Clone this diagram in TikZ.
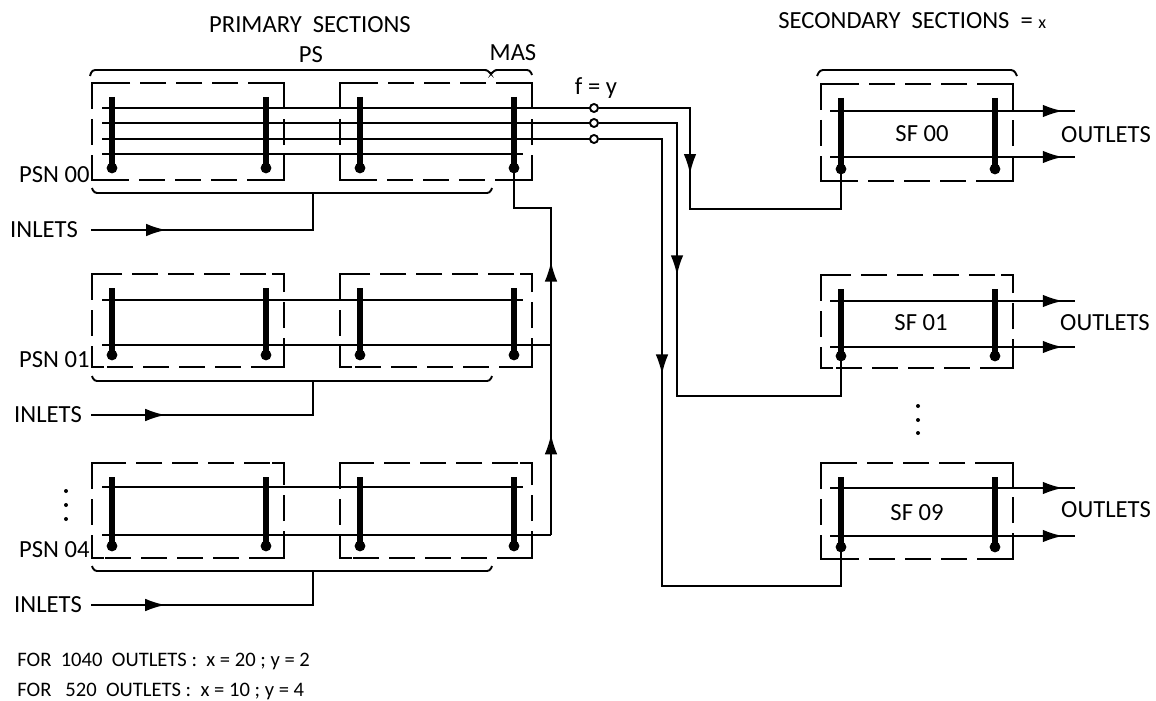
\documentclass[tikz,border=0pt]{standalone}
\usepackage{fontspec}
\setmainfont{Carlito}
\usetikzlibrary{arrows.meta,decorations.markings}
\tikzset{
  wire/.style={line width=0.95pt},
  bar/.style={line width=2.6pt},
  sectionbox/.style={line width=0.95pt,dash pattern=on 13pt off 5pt},
  flowarrow/.style={wire,decoration={markings,mark=at position #1 with {\arrow{Latex[length=10pt,width=6.3pt]}}},postaction={decorate}},
  lab/.style={font=\fontsize{12.3}{14}\selectfont,inner sep=0pt},
  notelab/.style={font=\fontsize{10.3}{12}\selectfont,inner sep=0pt,anchor=west},
  tap/.style={draw,wire,circle,fill=white,inner sep=0pt,minimum size=4pt}
}
\newcommand{\switchblock}[4]{% left x, top y, height, name
  \draw[sectionbox] (#1,#2) rectangle (#1+192,#2+#3);
  \draw[wire] (#1,#2+12) |- (#1+12,#2);
  \draw[wire] (#1+180,#2) -| (#1+192,#2+12);
  \draw[wire] (#1,#2+#3-12) |- (#1+12,#2+#3);
  \draw[wire] (#1+180,#2+#3) -| (#1+192,#2+#3-12);
  \draw[bar] (#1+20,#2+14) -- (#1+20,#2+#3-12);
  \draw[bar] (#1+174,#2+14) -- (#1+174,#2+#3-12);
  \fill (#1+20,#2+#3-12) coordinate (#4d1) circle (2.7pt);
  \fill (#1+174,#2+#3-12) coordinate (#4d2) circle (2.7pt);
}
\begin{document}
\begin{tikzpicture}[x=0.5pt,y=-0.5pt]
  \useasboundingbox (0,0) rectangle (1156,701);
  % primary and secondary blocks
  \foreach \y/\h/\n in {83/97/a,274/93/b,463/95/c} {
    \switchblock{92}{\y}{\h}{\n1}
    \switchblock{340}{\y}{\h}{\n2}
  }
  \foreach \y/\h/\n in {84/97/a,275/93/b,463/96/c} \switchblock{821}{\y}{\h}{\n3}
  % trunks row 00
  \foreach \y in {108,123,139} \draw[wire] (102,\y) -- (594,\y);
  \draw[wire] (102,154) -- (523,154);
  \node[tap] (f1) at (594,108) {};
  \node[tap] (f2) at (594,123) {};
  \node[tap] (f3) at (594,139) {};
  \draw[flowarrow=0.41] (f1) -| (690,209) -| (a3d1);
  \draw[flowarrow=0.415] (f2) -| (677,396) -| (b3d1);
  \draw[flowarrow=0.41] (f3) -| (662,586) -| (c3d1);
  % rows 01 and 04
  \draw[wire] (102,300) -- (523,300);
  \draw[wire] (102,345) -- (551,345);
  \draw[wire] (102,487) -- (523,487);
  \draw[wire] (102,535) -- (551,535);
  \draw[flowarrow=0.53] (551,535) -- (551,345);
  \draw[flowarrow=0.39] (551,345) -- (551,208) -- (514,208) -- (a2d2);
  % secondary links
  \foreach \y in {111,157,301,347,488,536} \draw[flowarrow=0.95] (830,\y) -- (1075,\y);
  % braces and inlets
  \draw[wire,rounded corners=1.5pt] (90,76) -- (92,70) -- (488,70) -- (491,75) -- (494,70) -- (530,70) -- (532,75);
  \draw[wire,rounded corners=1.5pt] (817,76) -- (820,70) -- (1014,70) -- (1017,76);
  \foreach \y in {193,381,571} \draw[wire,rounded corners=1.5pt] (92,\y-5) -- (94,\y) -- (490,\y) -- (492,\y-5);
  \foreach \y/\b/\x/\n in {230/193/44/a,415/381/48/b,605/571/48/c} {
    \node[lab] (inlets\n) at (\x,\y) {INLETS};
    \coordinate (start\n) at (91,\y);
    \draw[flowarrow=0.29] (start\n) -- (313,\y) -- (313,\b);
  }
  % labels
  \node[lab] (primary) at (310,25) {PRIMARY\ \ SECTIONS};
  \node[lab,anchor=west] (secondary) at (778,21) {SECONDARY\ \ SECTIONS\ \ =\ {\small x}};
  \node[lab] (ps) at (311,55) {PS};
  \node[lab] (mas) at (513,53) {MAS};
  \node[lab] (fy) at (596,88) {f = y};
  \node[lab,anchor=east] (psn0) at (90,175) {PSN 00};
  \node[lab,anchor=east] (psn1) at (90,360) {PSN 01};
  \node[lab,anchor=east] (psn4) at (90,550) {PSN 04};
  \node[lab] (sf0) at (922,134) {SF 00};
  \node[lab] (sf1) at (921,323) {SF 01};
  \node[lab] (sf9) at (917,513) {SF 09};
  \node[lab] (out0) at (1106,135) {OUTLETS};
  \node[lab] (out1) at (1105,323) {OUTLETS};
  \node[lab] (out9) at (1106,510) {OUTLETS};
  \foreach \y in {491,505,519} \fill (66,\y) circle (1pt);
  \foreach \y in {406,420,433} \fill (918,\y) circle (1pt);
  \node[notelab] (note1) at (17,661) {FOR\ \ 1040\ \ OUTLETS :\ \ x = 20 ; y = 2};
  \node[notelab] (note2) at (17,691) {FOR\ \ \ 520\ \ OUTLETS :\ \ x = 10 ; y = 4};
\end{tikzpicture}
\end{document}
